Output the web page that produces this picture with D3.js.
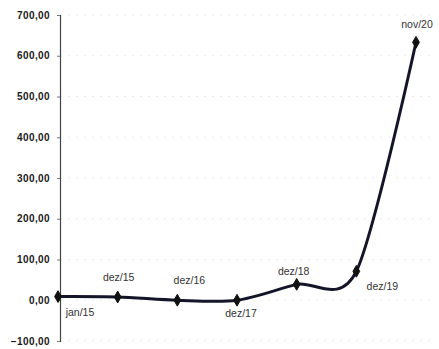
<!DOCTYPE html>
<html>
<head>
<meta charset="utf-8">
<script src="https://cdn.jsdelivr.net/npm/d3@7"></script>
<style>
  html, body { margin: 0; padding: 0; background: #fff; }
  svg { display: block; }
</style>
</head>
<body>
<svg id="chart" width="439" height="349"></svg>
<script>
// Series: period labels and their values
const periods = ["jan/15", "dez/15", "dez/16", "dez/17", "dez/18", "dez/19", "nov/20"];
const values = [9, 8, 0, 0, 39, 71, 633];
const yTicks = [-100, 0, 100, 200, 300, 400, 500, 600, 700];

// Per-point label offsets (dx, dy) relative to the marker
const labelOffsets = [[22, 17], [1, -19], [12, -19], [4, 14], [-3, -12], [26, 16], [1, -17]];

const svg = d3.select("#chart");
const plot = { left: 58, right: 416, top: 15, bottom: 341 };

const x = d3.scalePoint().domain(periods).range([plot.left, plot.right]);
const y = d3.scaleLinear().domain([-100, 700]).range([plot.bottom, plot.top]);

const fmt = v => d3.format(".2f")(v).replace(".", ",");

// Very faint dotted gridlines
svg.append("g")
  .selectAll("line")
  .data(yTicks)
  .join("line")
  .attr("x1", plot.left + 2).attr("x2", 432)
  .attr("y1", d => y(d)).attr("y2", d => y(d))
  .attr("stroke", "#efefef").attr("stroke-width", 1)
  .attr("stroke-dasharray", "2,6");

// Vertical value axis
const axis = svg.append("g")
  .attr("transform", `translate(${plot.left + 2},0)`)
  .call(d3.axisLeft(y).tickValues(yTicks).tickFormat(fmt).tickSize(3).tickPadding(7));
axis.select(".domain").attr("stroke", "#444").attr("stroke-width", 1.2);
axis.selectAll(".tick line").attr("stroke", "#777");
axis.selectAll(".tick text")
  .attr("fill", "#1a1a1a")
  .style("font-family", "'Liberation Sans', Arial, sans-serif")
  .style("font-size", "10px")
  .style("font-weight", "600")
  .style("letter-spacing", "0.4px");

const pts = periods.map((p, i) => ({ p, v: values[i], i }));

// Smoothed series line
const line = d3.line()
  .x(d => x(d.p))
  .y(d => y(d.v))
  .curve(d3.curveCardinal.tension(0.15));

svg.append("path")
  .datum(pts)
  .attr("d", line)
  .attr("fill", "none")
  .attr("stroke", "#15152a")
  .attr("stroke-width", 3)
  .attr("stroke-linejoin", "round");

// Diamond markers
svg.append("g")
  .selectAll("path")
  .data(pts)
  .join("path")
  .attr("transform", d => `translate(${x(d.p)},${y(d.v)})`)
  .attr("d", d3.symbol().type(d3.symbolDiamond).size(40))
  .attr("fill", "#111")
  .attr("stroke", "#111")
  .attr("stroke-width", 1);

// Period labels
svg.append("g")
  .selectAll("text")
  .data(pts)
  .join("text")
  .attr("x", d => x(d.p) + labelOffsets[d.i][0])
  .attr("y", d => y(d.v) + labelOffsets[d.i][1])
  .attr("text-anchor", "middle")
  .attr("dominant-baseline", "middle")
  .attr("fill", "#333")
  .style("font-family", "'Liberation Sans', Arial, sans-serif")
  .style("font-size", "10.5px")
  .text(d => d.p);
</script>
</body>
</html>
